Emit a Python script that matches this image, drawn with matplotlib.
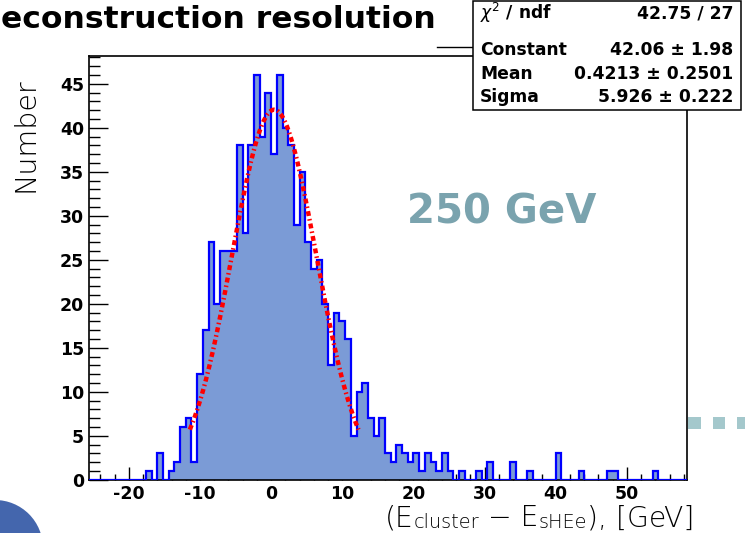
import numpy as np
import matplotlib
matplotlib.use('Agg')
import matplotlib.pyplot as plt
from matplotlib.patches import Rectangle, Circle
from matplotlib.lines import Line2D
from matplotlib.transforms import IdentityTransform
from matplotlib.ticker import MultipleLocator

# ---------------- data ----------------
bin_lo, bin_hi = -25.6, 58.4
counts = [0, 0, 0, 0, 0, 0, 0, 0, 0, 0,          # -25.6 .. -17.6
          1, 0, 3, 0, 1, 2, 6, 7, 2, 12,         # bins -22 .. -13
          17, 27, 20, 26, 26, 26, 38, 28, 38, 46,  # bins -12 .. -3
          39, 44, 37, 46, 40, 38, 29, 35, 27, 24,  # bins -2 .. 7
          25, 20, 13, 19, 18, 16, 5, 10, 11, 7,   # bins 8 .. 17
          5, 7, 3, 2, 4, 3, 2, 3, 1, 3,           # bins 18 .. 27
          2, 1, 3, 1, 0, 1, 0, 0, 1, 0,           # bins 28 .. 37
          2, 0, 0, 0, 2, 0, 0, 1, 0, 0,           # bins 38 .. 47
          0, 0, 3, 0, 0, 0, 1, 0, 0, 0,           # bins 48 .. 57
          0, 1, 1, 0, 0, 0, 0, 0, 0, 1,           # bins 58 .. 67
          0, 0, 0, 0, 0]                          # bins 68 .. 72
edges = np.linspace(bin_lo, bin_hi, len(counts) + 1)

fit_const, fit_mean, fit_sigma = 42.06, 0.4213, 5.926
stats_labels = [r'$\chi^2$ / ndf', 'Constant', 'Mean', 'Sigma']
stats_values = ['42.75 / 27', '42.06 \u00b1 1.98', '0.4213 \u00b1 0.2501', '5.926 \u00b1 0.222']
x_ticks = [-20, -10, 0, 10, 20, 30, 40, 50]
y_ticks = [0, 5, 10, 15, 20, 25, 30, 35, 40, 45]
title_text = 'econstruction resolution'
energy_text = '250 GeV'
ylabel_text = 'Number'

# ---------------- figure ----------------
plt.rcParams['axes.unicode_minus'] = False
W, H = 745, 533
fig = plt.figure(figsize=(W / 100, H / 100), dpi=100)
fig.patch.set_facecolor('white')


def fx(px):
    return px / W


def fy(py):
    return 1 - py / H


ax_l, ax_r, ax_t, ax_b = 89.0, 686.7, 55.7, 479.7
ax = fig.add_axes([fx(ax_l), fy(ax_b), (ax_r - ax_l) / W, (ax_b - ax_t) / H])

ax.stairs(counts, edges, fill=True, color='#7b9bd6', lw=0, zorder=2)
ax.stairs(counts, edges, baseline=0, color='#0000ff', lw=1.6, zorder=3)

xf = np.linspace(fit_mean - 2 * fit_sigma, fit_mean + 2 * fit_sigma, 400)
yf = fit_const * np.exp(-0.5 * ((xf - fit_mean) / fit_sigma) ** 2)
ax.plot(xf, yf, color='#ff0000', lw=3.2, ls=(0, (1.1, 0.7, 0.35, 0.7)), zorder=4,
        dash_capstyle='butt')

ax.set_xlim(bin_lo, bin_hi)
ax.set_ylim(0, 48.2)
ax.set_xticks(x_ticks)
ax.set_yticks(y_ticks)
ax.xaxis.set_minor_locator(MultipleLocator(2))
ax.yaxis.set_minor_locator(MultipleLocator(1))
ax.tick_params(axis='both', which='both', direction='in', top=False, right=False,
               color='black', width=1.0)
ax.tick_params(axis='x', which='major', length=9.2, pad=3.5)
ax.tick_params(axis='x', which='minor', length=4.4)
ax.tick_params(axis='y', which='major', length=13.7, pad=3.5)
ax.tick_params(axis='y', which='minor', length=7.6)
for lbl in ax.get_xticklabels() + ax.get_yticklabels():
    lbl.set_fontfamily('DejaVu Sans')
    lbl.set_fontweight('bold')
    lbl.set_fontsize(12.5)
for s in ax.spines.values():
    s.set_linewidth(1.2)
    s.set_color('black')

ax.text(fx(502), fy(223), energy_text, transform=fig.transFigure, ha='center', va='baseline',
        fontsize=29, fontweight='bold', family='DejaVu Sans', color='#7aa3ae')

# title (cropped in the reference)
fig.text(fx(1), fy(28.5), title_text, ha='left', va='baseline', fontsize=22.6,
         fontweight='bold', family='DejaVu Sans', color='black')

# y label
fig.text(fx(33.3), fy(135), ylabel_text, rotation=90, rotation_mode='anchor',
         ha='center', va='baseline', fontsize=20.5, family='DejaVu Sans', fontweight=200,
         color='black')

# x label built from pieces (subscripts)
main_fs, sub_fs = 20.3, 13.9
t0 = fig.text(fx(385), fy(526.5), '(E', ha='left', va='baseline', fontsize=main_fs,
              family='DejaVu Sans', fontweight=200)
prev = t0
for txt, fs in [('cluster', sub_fs), (' \u2212 E', main_fs), ('sHEe', sub_fs), ('), [GeV]', main_fs)]:
    prev = ax.annotate(txt, xy=(1, 0), xycoords=prev, ha='left', va='bottom', fontsize=fs,
                       family='DejaVu Sans', fontweight=200, annotation_clip=False)

# stats box and its connector line
fig.add_artist(Line2D([fx(437), fx(473.3)], [fy(46.7), fy(46.7)], transform=fig.transFigure,
                      color='black', lw=1.0, zorder=9))
fig.add_artist(Rectangle((fx(473.3), fy(110)), (741 - 473.3) / W, (110 - 1) / H,
                         transform=fig.transFigure, facecolor='white', edgecolor='black',
                         lw=1.1, zorder=10))
row_base = [19, 55, 79, 102]
for lab, val, yb in zip(stats_labels, stats_values, row_base):
    fig.text(fx(480), fy(yb), lab, ha='left', va='baseline', fontsize=12.3, fontweight='bold',
             family='DejaVu Sans', zorder=11)
    fig.text(fx(733.3), fy(yb), val, ha='right', va='baseline', fontsize=12.3,
             fontweight='bold', family='DejaVu Sans', zorder=11)

# slide decorations
for x0 in [688, 712.5, 737]:
    fig.add_artist(Rectangle((fx(x0), fy(428.5)), 12.5 / W, 12 / H, transform=fig.transFigure,
                             facecolor='#a4c8cc', edgecolor='none', zorder=1))
fig.add_artist(Circle((-5, H - 548), 48, transform=IdentityTransform(),
                      facecolor='#4466ad', edgecolor='none', zorder=1))

fig.savefig('out.png', dpi=100)
